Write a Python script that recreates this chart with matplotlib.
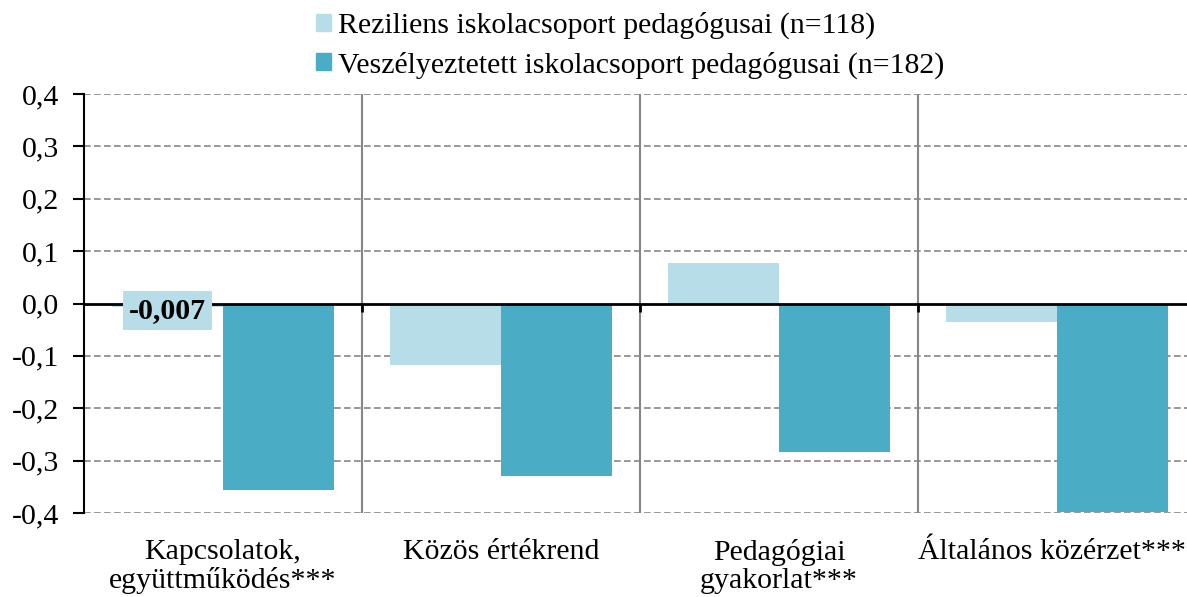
import numpy as np
import matplotlib
matplotlib.use("Agg")
import matplotlib.pyplot as plt
from matplotlib.patches import Patch
from matplotlib.transforms import blended_transform_factory

plt.rcParams["font.family"] = ["Liberation Serif", "DejaVu Serif"]
plt.rcParams["font.size"] = 21.5

categories = ["Kapcsolatok,\negyüttműködés***", "Közös értékrend",
              "Pedagógiai\ngyakorlat***", "Általános közérzet***"]
reziliens = [-0.007, -0.118, 0.078, -0.036]
veszelyez = [-0.357, -0.329, -0.283, -0.398]
series_names = ["Reziliens iskolacsoport pedagógusai (n=118)",
                "Veszélyeztetett iskolacsoport pedagógusai (n=182)"]
yticks = [-0.4, -0.3, -0.2, -0.1, 0.0, 0.1, 0.2, 0.3, 0.4]

c_light = "#B7DDE8"
c_dark = "#4BACC6"
c_grid = "#868686"

fig = plt.figure(figsize=(11.87, 5.97), dpi=100)
ax = fig.add_axes([84 / 1187, 1 - 513 / 597, 1112 / 1187, 419 / 597])

x = np.arange(len(categories))
w = 0.4
ax.bar(x - w / 2, reziliens, w, color=c_light, zorder=2)
ax.bar(x + w / 2, veszelyez, w, color=c_dark, zorder=2)

ax.set_xlim(-0.5, len(categories) - 0.5)
ax.set_ylim(-0.4, 0.4)
ax.set_yticks(yticks)
ax.set_yticklabels([f"{v:.1f}".replace(".", ",") for v in yticks])
ax.tick_params(axis="y", direction="out", length=8, width=1.5, pad=10)

for v in yticks:
    if v != 0:
        ax.axhline(v, color=c_grid, lw=1.2, ls=(0, (4, 2)), zorder=1)
for b in np.arange(0.5, len(categories) - 0.5):
    ax.axvline(b, color=c_grid, lw=1.5, zorder=1)

# category axis sits on zero
ax.spines["bottom"].set_position(("data", 0))
ax.spines["bottom"].set_linewidth(2)
ax.spines["bottom"].set_zorder(3)
ax.spines["left"].set_linewidth(1.5)
ax.spines["top"].set_visible(False)
ax.spines["right"].set_visible(False)
ax.set_xticks(np.arange(0.5, len(categories) - 0.5))
ax.set_xticklabels([])
ax.tick_params(axis="x", direction="out", length=6, width=2)

trans = blended_transform_factory(ax.transData, ax.transAxes)
for i, lab in enumerate(categories):
    xpos = i - 0.02 if i == len(categories) - 1 else i  # last one clipped by edge
    ax.text(xpos, -0.062, lab, transform=trans, ha="center", va="top",
            linespacing=1.1)

ax.text(x[0] - w / 2, -0.013, f"{reziliens[0]:.3f}".replace(".", ","),
        ha="center", va="center", fontweight="bold", zorder=4,
        bbox=dict(boxstyle="square,pad=0.2", fc=c_light, ec="none"))

handles = [Patch(color=c_light), Patch(color=c_dark)]
fig.legend(handles, series_names, loc="upper left",
           bbox_to_anchor=(289 / 1187, 1.025), frameon=False,
           handlelength=0.5, handleheight=0.5, handletextpad=0.25,
           labelspacing=0.4)

fig.savefig("out.png", dpi=100)
